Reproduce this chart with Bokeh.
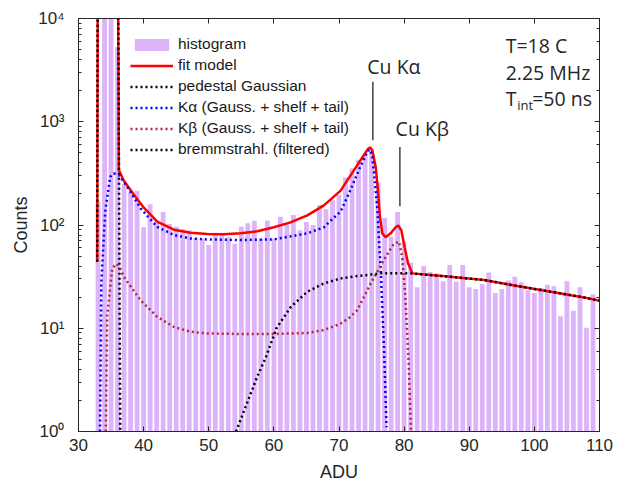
from bokeh.plotting import figure
from bokeh.models import (LinearAxis, LogAxis, FixedTicker, CustomJSTickFormatter,
                          Label, Range1d)
from bokeh.embed import file_html
from bokeh.resources import INLINE

# ---------------- data ----------------
bin_centers = list(range(33, 110))
counts = [167, 20000, 18000, 5300, 250, 208, 215, 95, 159, 111,
          134, 102, 96, 91, 89, 75, 74, 64, 84, 80,
          76, 66, 96, 104, 110, 74, 110, 74, 120, 102,
          125, 89, 107, 100, 156, 142, 174, 195, 289, 353,
          425, 475, 500, 260, 117, 77, 134, 69, 43, 25,
          40, 35, 34, 28.6, 41, 28.4, 41, 24.9, 24, 26.8,
          34.6, 22, 24, 29, 31.5, 27.9, 23.3, 22, 24.6, 26.4,
          25.5, 13.1, 28.6, 14.8, 24.9, 10.1, 21.4]

fit_x = [32.87, 32.95, 36.08, 36.2, 36.96, 38.49, 40.03, 42.09, 44.64, 47.2,
         49.77, 52.32, 54.88, 57.45, 60.0, 62.56, 65.13, 67.68, 70.25, 72.3,
         73.58, 74.45, 74.75, 75.12, 75.63, 75.98, 76.29, 76.65, 77.16, 77.93,
         78.69, 79.1, 79.57, 80.08, 80.6, 81.27, 87.1, 92.3, 97.4, 102.5,
         107.6, 110.0]
fit_y = [44, 20000, 20000, 340, 268, 197, 147, 108, 90, 84,
         82, 81.5, 83, 87, 95, 106, 124, 155, 215, 340,
         450, 545, 565, 530, 366, 218, 120, 83, 76, 83,
         95, 99, 89, 61, 42.5, 34, 31.5, 29.3, 25.6, 22.6,
         19.9, 18.5]

ped_x = [32.87, 32.95, 36.08, 36.4]
ped_y = [44, 20000, 20000, 1]

ka_x = [33.3, 33.5, 34.1, 34.87, 35.4, 36.2, 36.96, 37.48, 38.49, 39.52,
        42.09, 44.64, 47.2, 49.77, 54.88, 60.0, 65.13, 67.68, 68.7, 70.25,
        71.78, 73.3, 74.35, 74.75, 75.12, 75.53, 75.9, 76.14, 76.4, 76.9,
        77.3]
ka_y = [1, 27, 135, 293, 316, 304, 262, 234, 185, 145,
        96, 80, 74, 72.5, 71.5, 72.5, 83, 95, 110, 135,
        220, 370, 510, 540, 457, 253, 139, 71, 38, 6.6,
        1.1]

kb_x = [34.2, 34.4, 35.18, 35.8, 36.3, 36.96, 39.52, 42.09, 44.64, 47.2,
        49.77, 54.88, 60.0, 65.13, 67.68, 70.25, 71.78, 72.81, 74.85, 76.9,
        78.43, 79.2, 79.7, 80.2, 80.7, 81.05]
kb_y = [1, 13, 38, 42, 39, 31.5, 18.7, 12.9, 10.3, 9.25,
        8.9, 8.8, 8.8, 9.0, 9.6, 11.1, 12.9, 15, 27, 46,
        66, 69, 49, 20, 4.6, 1]

br_x = [54.2, 55.9, 57.45, 58.8, 60.4, 62.57, 65.13, 67.69, 70.25, 72.81,
        76.4, 81.0, 87.1, 92.3, 97.4, 102.5, 107.6, 110.0]
br_y = [1.0, 1.9, 3.4, 5.3, 10, 16, 22.6, 27.2, 30.4, 32,
        34, 34, 31.5, 29.3, 25.6, 22.6, 19.9, 18.5]

peak_names = ["Cu K\u03b1", "Cu K\u03b2"]
peak_line_x = [75.2, 79.35]
peak_line_top = [2434, 571]
peak_line_bottom = [663, 152]

x_ticks = [30, 40, 50, 60, 70, 80, 90, 100, 110]

# ---------------- styling ----------------
AX = "#262626"
BAR = "#DDB4FA"
KB = "#B3243F"
TICK_FONT = "Liberation Sans"

p = figure(width=619, height=492, y_axis_type="log",
           x_range=Range1d(30, 110), y_range=Range1d(1, 1e4),
           output_backend="svg", toolbar_location=None,
           min_border_left=78, min_border_right=20,
           min_border_top=18, min_border_bottom=61,
           background_fill_color="white", border_fill_color="white")
p.grid.visible = False
p.outline_line_color = AX
p.outline_line_width = 1

p.vbar(x=bin_centers, top=counts, bottom=1, width=0.74,
       fill_color=BAR, line_color=None, legend_label="histogram")
p.line(fit_x, fit_y, line_color="#FF0000", line_width=2.5, legend_label="fit model")
p.line(ped_x, ped_y, line_color="black", line_width=2.5, line_dash="2 3",
       legend_label="pedestal Gaussian")
p.line(ka_x, ka_y, line_color="#0000FF", line_width=2.5, line_dash="2 3",
       legend_label="K\u03b1 (Gauss. + shelf + tail)")
p.line(kb_x, kb_y, line_color=KB, line_width=2.5, line_dash="2 3",
       legend_label="K\u03b2 (Gauss. + shelf + tail)")
p.line(br_x, br_y, line_color="black", line_width=2.5, line_dash="2 3",
       legend_label="bremmstrahl. (filtered)")

p.segment(x0=peak_line_x, y0=peak_line_bottom, x1=peak_line_x, y1=peak_line_top,
          line_color="#404040", line_width=1.5)

sup_code = """
const sup = {"0":"\u2070","1":"\u00b9","2":"\u00b2","3":"\u00b3","4":"\u2074",
             "5":"\u2075","6":"\u2076","7":"\u2077","8":"\u2078","9":"\u2079","-":"\u207b"};
const e = Math.round(Math.log10(tick));
return "10" + String(e).split("").map(c => sup[c]).join("");
"""

xa = p.xaxis[0]
xa.ticker = FixedTicker(ticks=x_ticks)
xa.axis_label = "ADU"
ya = p.yaxis[0]
ya.axis_label = "Counts"
ya.formatter = CustomJSTickFormatter(code=sup_code)

for ax in (xa, ya):
    ax.axis_line_color = AX
    ax.major_tick_line_color = AX
    ax.minor_tick_line_color = AX
    ax.major_tick_in = 5
    ax.major_tick_out = 0
    ax.minor_tick_in = 3
    ax.minor_tick_out = 0
    ax.major_label_text_font = TICK_FONT
    ax.major_label_text_font_size = "17px"
    ax.major_label_text_color = AX
    ax.axis_label_text_font = TICK_FONT
    ax.axis_label_text_font_size = "18px"
    ax.axis_label_text_font_style = "normal"
    ax.axis_label_text_color = AX
xa.minor_tick_in = 0
xa.major_label_standoff = 7
xa.axis_label_standoff = 8
ya.major_label_standoff = 14
ya.axis_label_standoff = 4

blank = CustomJSTickFormatter(code="return '';")
top_ax = LinearAxis(ticker=FixedTicker(ticks=x_ticks), formatter=blank,
                    major_label_standoff=0, major_tick_in=5, major_tick_out=0,
                    minor_tick_in=0, minor_tick_out=0, axis_line_color=AX,
                    major_tick_line_color=AX)
p.add_layout(top_ax, "above")
right_ax = LogAxis(formatter=CustomJSTickFormatter(code="return '';"),
                   major_label_standoff=0,
                   major_tick_in=5, major_tick_out=0, minor_tick_in=3, minor_tick_out=0,
                   axis_line_color=AX, major_tick_line_color=AX, minor_tick_line_color=AX)
p.add_layout(right_ax, "right")

leg = p.legend[0]
leg.location = (47, 268)
leg.background_fill_alpha = 0
leg.border_line_alpha = 0
leg.label_text_font = TICK_FONT
leg.label_text_font_size = "15.5px"
leg.label_text_color = "#1a1a1a"
leg.glyph_width = 43
leg.glyph_height = 15
leg.label_height = 15
leg.spacing = 3
leg.padding = 5
leg.margin = 0
leg.label_standoff = 5

TXT_FONT = "Open Sans"
TXT_SIZE = "19.5px"
def add_text(x, y, s, size=TXT_SIZE, xo=0, yo=0):
    p.add_layout(Label(x=x, y=y, text=s, text_font=TXT_FONT, text_font_size=size,
                       text_color=AX, text_baseline="middle", text_align="left",
                       x_offset=xo, y_offset=yo))

add_text(74.35, 3401, peak_names[0])
add_text(78.69, 861, peak_names[1])
add_text(95.59, 5517, "T=18 C")
add_text(95.59, 2975, "2.25 MHz")
add_text(95.59, 1681, "T")
add_text(95.59, 1681, "int", size="13px", xo=11.5, yo=-7)
add_text(95.59, 1681, "=50 ns", xo=26.5)

open("out.html", "w").write(file_html(p, INLINE))
